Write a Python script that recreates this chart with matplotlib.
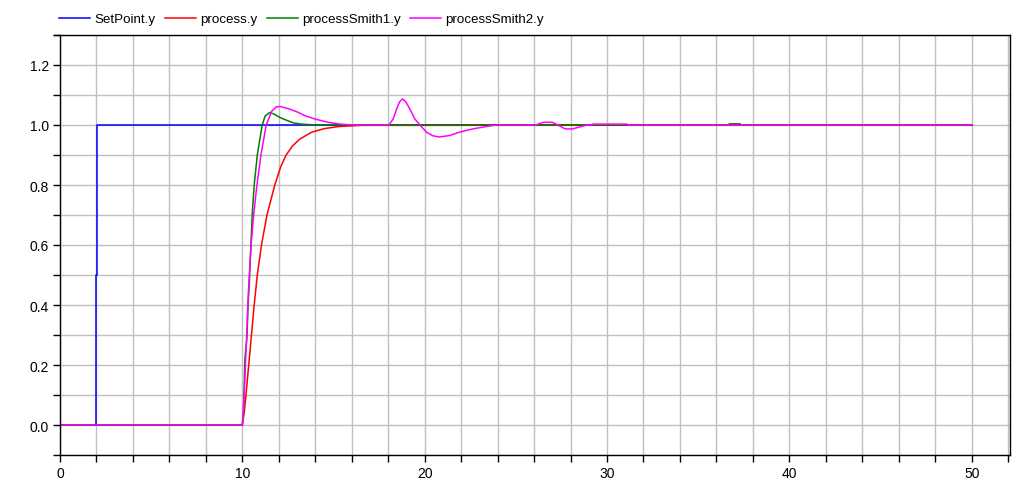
import matplotlib
matplotlib.use("Agg")
from matplotlib import pyplot as plt
from matplotlib.ticker import MultipleLocator
from matplotlib.lines import Line2D

plt.rcParams['font.family'] = ['Liberation Sans', 'DejaVu Sans']

# SetPoint.y : step at t = 2
setpoint_t = [0, 2.0, 2.0, 2.05, 2.05, 50]
setpoint_y = [0, 0, 0.5, 0.5, 1.0, 1.0]

# process.y : plain delayed response
process_t = [0, 10.0, 10.1, 10.2, 10.35, 10.5, 10.65, 10.82, 11.05, 11.35, 11.78,
             12.1, 12.4, 12.75, 13.15, 13.8, 14.5, 15.3, 16.6, 50]
process_y = [0, 0, 0.04, 0.1, 0.2, 0.3, 0.4, 0.5, 0.6, 0.7, 0.8,
             0.86, 0.9, 0.93, 0.953, 0.976, 0.988, 0.995, 0.999, 1.0]

# processSmith1.y
smith1_t = [0, 10.0, 10.06, 10.1, 10.14, 10.25, 10.32, 10.38, 10.47, 10.54, 10.65,
            10.82, 11.09, 11.25, 11.5, 11.75, 12.06, 12.5, 12.8, 13.25, 14.07,
            36.7, 36.7, 37.3, 37.3, 50]
smith1_y = [0, 0, 0.05, 0.12, 0.22, 0.29, 0.41, 0.47, 0.6, 0.7, 0.8,
            0.9, 1.0, 1.03, 1.042, 1.036, 1.025, 1.014, 1.007, 1.003, 1.0,
            1.0, 1.004, 1.004, 1.0, 1.0]

# processSmith2.y : with load disturbances
smith2_t = [0, 10.0, 10.05, 10.1, 10.17, 10.24, 10.3, 10.38, 10.48, 10.62, 10.8,
            11.02, 11.31, 11.6, 11.85, 12.06, 12.6, 13.07, 13.43, 13.98, 14.71,
            15.35, 16.08, 18.04, 18.27, 18.46, 18.62, 18.79, 18.97, 19.19, 19.46,
            19.74, 20.1, 20.45, 20.8, 21.38, 21.9, 22.64, 23.3, 23.9, 26.1,
            26.5, 27.0, 27.3, 27.7, 28.1, 28.9, 29.2, 29.2, 31.1, 31.1, 50]
smith2_y = [0, 0, 0.03, 0.1, 0.2, 0.3, 0.4, 0.5, 0.6, 0.7, 0.8,
            0.9, 1.0, 1.045, 1.06, 1.062, 1.053, 1.042, 1.031, 1.02, 1.009,
            1.003, 1.0, 1.0, 1.02, 1.053, 1.077, 1.087, 1.077, 1.053, 1.02,
            1.0, 0.976, 0.964, 0.96, 0.965, 0.976, 0.987, 0.994, 1.0, 1.0,
            1.009, 1.009, 1.0, 0.987, 0.987, 1.0, 1.0, 1.003, 1.003, 1.0, 1.0]

fig = plt.figure(figsize=(10.34, 4.81), dpi=100)
ax = fig.add_axes([60/1034, 1 - 456/481, 950/1034, 420/481])

ax.plot(setpoint_t, setpoint_y, color='#0000ff', lw=1.1, label='SetPoint.y')
ax.plot(process_t, process_y, color='#ff0000', lw=1.1, label='process.y')
ax.plot(smith1_t, smith1_y, color='#008000', lw=1.1, label='processSmith1.y')
ax.plot(smith2_t, smith2_y, color='#ff00ff', lw=1.1, label='processSmith2.y')

ax.set_xlim(0, 52.1)
ax.set_ylim(-0.1, 1.3)
ax.xaxis.set_major_locator(MultipleLocator(10))
ax.xaxis.set_minor_locator(MultipleLocator(2))
ax.yaxis.set_major_locator(MultipleLocator(0.2))
ax.yaxis.set_minor_locator(MultipleLocator(0.1))
ax.yaxis.set_major_formatter(matplotlib.ticker.FormatStrFormatter('%.1f'))
ax.grid(True, which='both', color='#c0c0c0', lw=1.0)
ax.set_axisbelow(True)
ax.tick_params(which='both', direction='out', length=5, width=1, labelsize=10, pad=3)
for s in ax.spines.values():
    s.set_color('black')
    s.set_linewidth(1.0)

# separator line under the legend
fig.add_artist(Line2D([54/1034, 60/1034], [1 - 36/481, 1 - 36/481],
                      color='black', lw=1.0, transform=fig.transFigure))

fig.legend(loc='center left', bbox_to_anchor=(54/1034, 1 - 20/481), ncol=4,
           frameon=False, fontsize=9.6, handlelength=2.3, handletextpad=0.3,
           columnspacing=0.75, borderaxespad=0)

fig.savefig('out.png', dpi=100)
